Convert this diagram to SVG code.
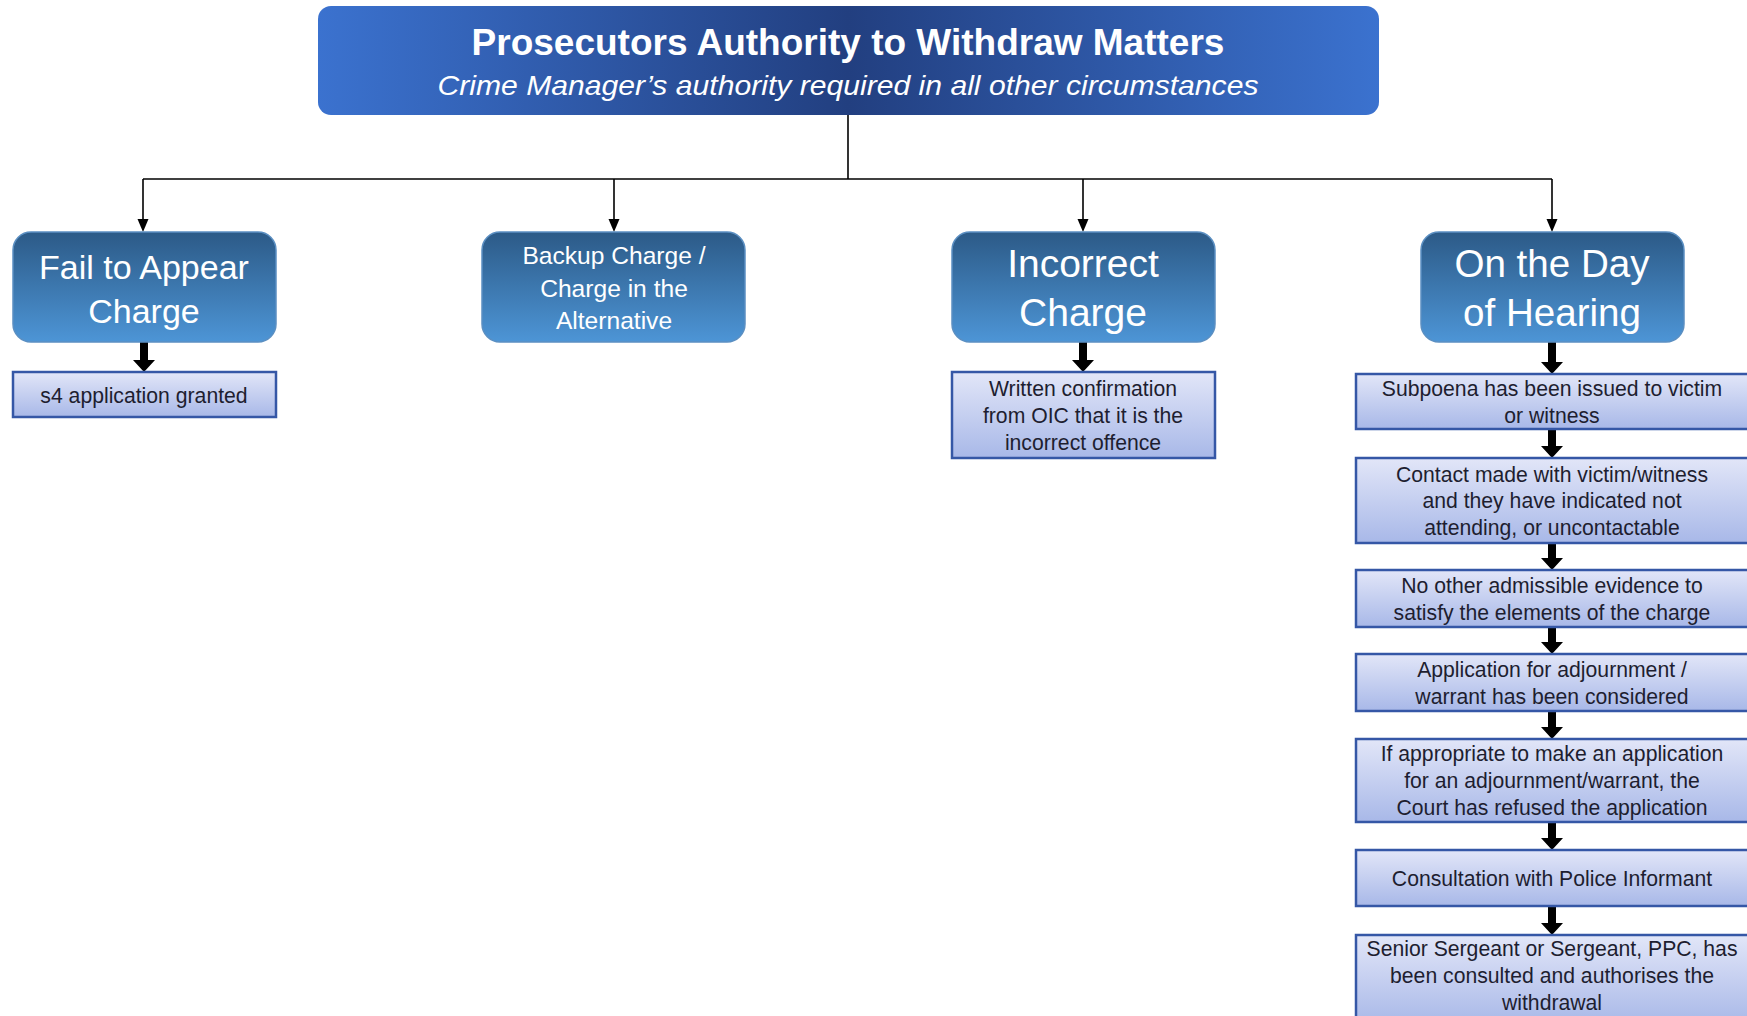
<svg xmlns="http://www.w3.org/2000/svg" width="1747" height="1016" viewBox="0 0 1747 1016">
<defs>
<linearGradient id="gTitle" x1="0" y1="0" x2="1" y2="0">
<stop offset="0" stop-color="#3b72cf"/>
<stop offset="0.5" stop-color="#223f80"/>
<stop offset="1" stop-color="#3b72cf"/>
</linearGradient>
<linearGradient id="gCat" x1="0" y1="0" x2="0" y2="1">
<stop offset="0" stop-color="#2c5a87"/>
<stop offset="1" stop-color="#4d95d6"/>
</linearGradient>
<linearGradient id="gSub" x1="0" y1="0" x2="0" y2="1">
<stop offset="0" stop-color="#e2e6f8"/>
<stop offset="1" stop-color="#a8b8e8"/>
</linearGradient>
<style>
.title{font-family:"Liberation Sans",Arial,sans-serif;fill:#fff;text-anchor:middle}
.cat rect{fill:url(#gCat);stroke:#5b8fc2;stroke-width:1.5}
.cat text{font-family:"Liberation Sans",Arial,sans-serif;fill:#fff;text-anchor:middle}
.sub rect{fill:url(#gSub);stroke:#3557a6;stroke-width:2.5}
.sub text{font-family:"Liberation Sans",Arial,sans-serif;fill:#1e1e30;text-anchor:middle;font-size:21.2px}
.thin{stroke:#000;stroke-width:1.6;fill:none}
.head{fill:#000}
.thick{fill:#000}
</style>
</defs>

<g id="title">
<rect x="318" y="6" width="1061" height="109" rx="13" fill="url(#gTitle)"/>
<text class="title" x="848" y="55" font-size="37" font-weight="bold">Prosecutors Authority to Withdraw Matters</text>
<text class="title" x="848" y="95" font-size="28" font-style="italic" textLength="821" lengthAdjust="spacingAndGlyphs">Crime Manager’s authority required in all other circumstances</text>
</g>

<g id="connectors">
<path class="thin" d="M848,115 V179"/>
<path class="thin" d="M143,179 H1552"/>
<path class="thin" d="M143,179 V222"/>
<path class="thin" d="M614,179 V222"/>
<path class="thin" d="M1083,179 V222"/>
<path class="thin" d="M1552,179 V222"/>
<path class="head" d="M137.5,219 h11 l-5.5,13 z"/>
<path class="head" d="M608.5,219 h11 l-5.5,13 z"/>
<path class="head" d="M1077.5,219 h11 l-5.5,13 z"/>
<path class="head" d="M1546.5,219 h11 l-5.5,13 z"/>
<path class="thick" d="M140,342 h8 v18 h7 l-11,12 l-11,-12 h7 z"/>
<path class="thick" d="M1079,342 h8 v18 h7 l-11,12 l-11,-12 h7 z"/>
<path class="thick" d="M1548,342 h8 v20 h7 l-11,12 l-11,-12 h7 z"/>
<path class="thick" d="M1548,429 h8 v17 h7 l-11,12 l-11,-12 h7 z"/>
<path class="thick" d="M1548,543 h8 v15 h7 l-11,12 l-11,-12 h7 z"/>
<path class="thick" d="M1548,627 h8 v15 h7 l-11,12 l-11,-12 h7 z"/>
<path class="thick" d="M1548,711 h8 v16 h7 l-11,12 l-11,-12 h7 z"/>
<path class="thick" d="M1548,822 h8 v16 h7 l-11,12 l-11,-12 h7 z"/>
<path class="thick" d="M1548,906 h8 v17 h7 l-11,12 l-11,-12 h7 z"/>
</g>

<g id="cat-fta" class="cat">
<rect x="13" y="232" width="263" height="110" rx="18"/>
<text x="144" y="279" font-size="34">Fail to Appear</text>
<text x="144" y="323" font-size="34">Charge</text>
</g>
<g id="cat-backup" class="cat">
<rect x="482" y="232" width="263" height="110" rx="18"/>
<text x="614" y="264" font-size="24.6">Backup Charge /</text>
<text x="614" y="297" font-size="24.6">Charge in the</text>
<text x="614" y="329" font-size="24.6">Alternative</text>
</g>
<g id="cat-incorrect" class="cat">
<rect x="952" y="232" width="263" height="110" rx="18"/>
<text x="1083" y="277" font-size="39">Incorrect</text>
<text x="1083" y="326" font-size="39">Charge</text>
</g>
<g id="cat-day" class="cat">
<rect x="1421" y="232" width="263" height="110" rx="18"/>
<text x="1552" y="277" font-size="38.6">On the Day</text>
<text x="1552" y="326" font-size="38.6">of Hearing</text>
</g>

<g id="sub-s4" class="sub">
<rect x="13" y="372" width="263" height="45"/>
<text x="144" y="403">s4 application granted</text>
</g>
<g id="sub-oic" class="sub">
<rect x="952" y="372" width="263" height="86"/>
<text x="1083" y="396">Written confirmation</text>
<text x="1083" y="423">from OIC that it is the</text>
<text x="1083" y="450">incorrect offence</text>
</g>
<g id="sub-subpoena" class="sub">
<rect x="1356" y="374" width="396" height="55"/>
<text x="1552" y="396">Subpoena has been issued to victim</text>
<text x="1552" y="423">or witness</text>
</g>
<g id="sub-contact" class="sub">
<rect x="1356" y="458" width="396" height="85"/>
<text x="1552" y="482">Contact made with victim/witness</text>
<text x="1552" y="508">and they have indicated not</text>
<text x="1552" y="535">attending, or uncontactable</text>
</g>
<g id="sub-evidence" class="sub">
<rect x="1356" y="570" width="396" height="57"/>
<text x="1552" y="593">No other admissible evidence to</text>
<text x="1552" y="620">satisfy the elements of the charge</text>
</g>
<g id="sub-adjourn" class="sub">
<rect x="1356" y="654" width="396" height="57"/>
<text x="1552" y="677">Application for adjournment /</text>
<text x="1552" y="704">warrant has been considered</text>
</g>
<g id="sub-court" class="sub">
<rect x="1356" y="739" width="396" height="83"/>
<text x="1552" y="761">If appropriate to make an application</text>
<text x="1552" y="788">for an adjournment/warrant, the</text>
<text x="1552" y="815">Court has refused the application</text>
</g>
<g id="sub-informant" class="sub">
<rect x="1356" y="850" width="396" height="56"/>
<text x="1552" y="886">Consultation with Police Informant</text>
</g>
<g id="sub-sergeant" class="sub">
<rect x="1356" y="935" width="396" height="90"/>
<text x="1552" y="956">Senior Sergeant or Sergeant, PPC, has</text>
<text x="1552" y="983">been consulted and authorises the</text>
<text x="1552" y="1010">withdrawal</text>
</g>
</svg>
